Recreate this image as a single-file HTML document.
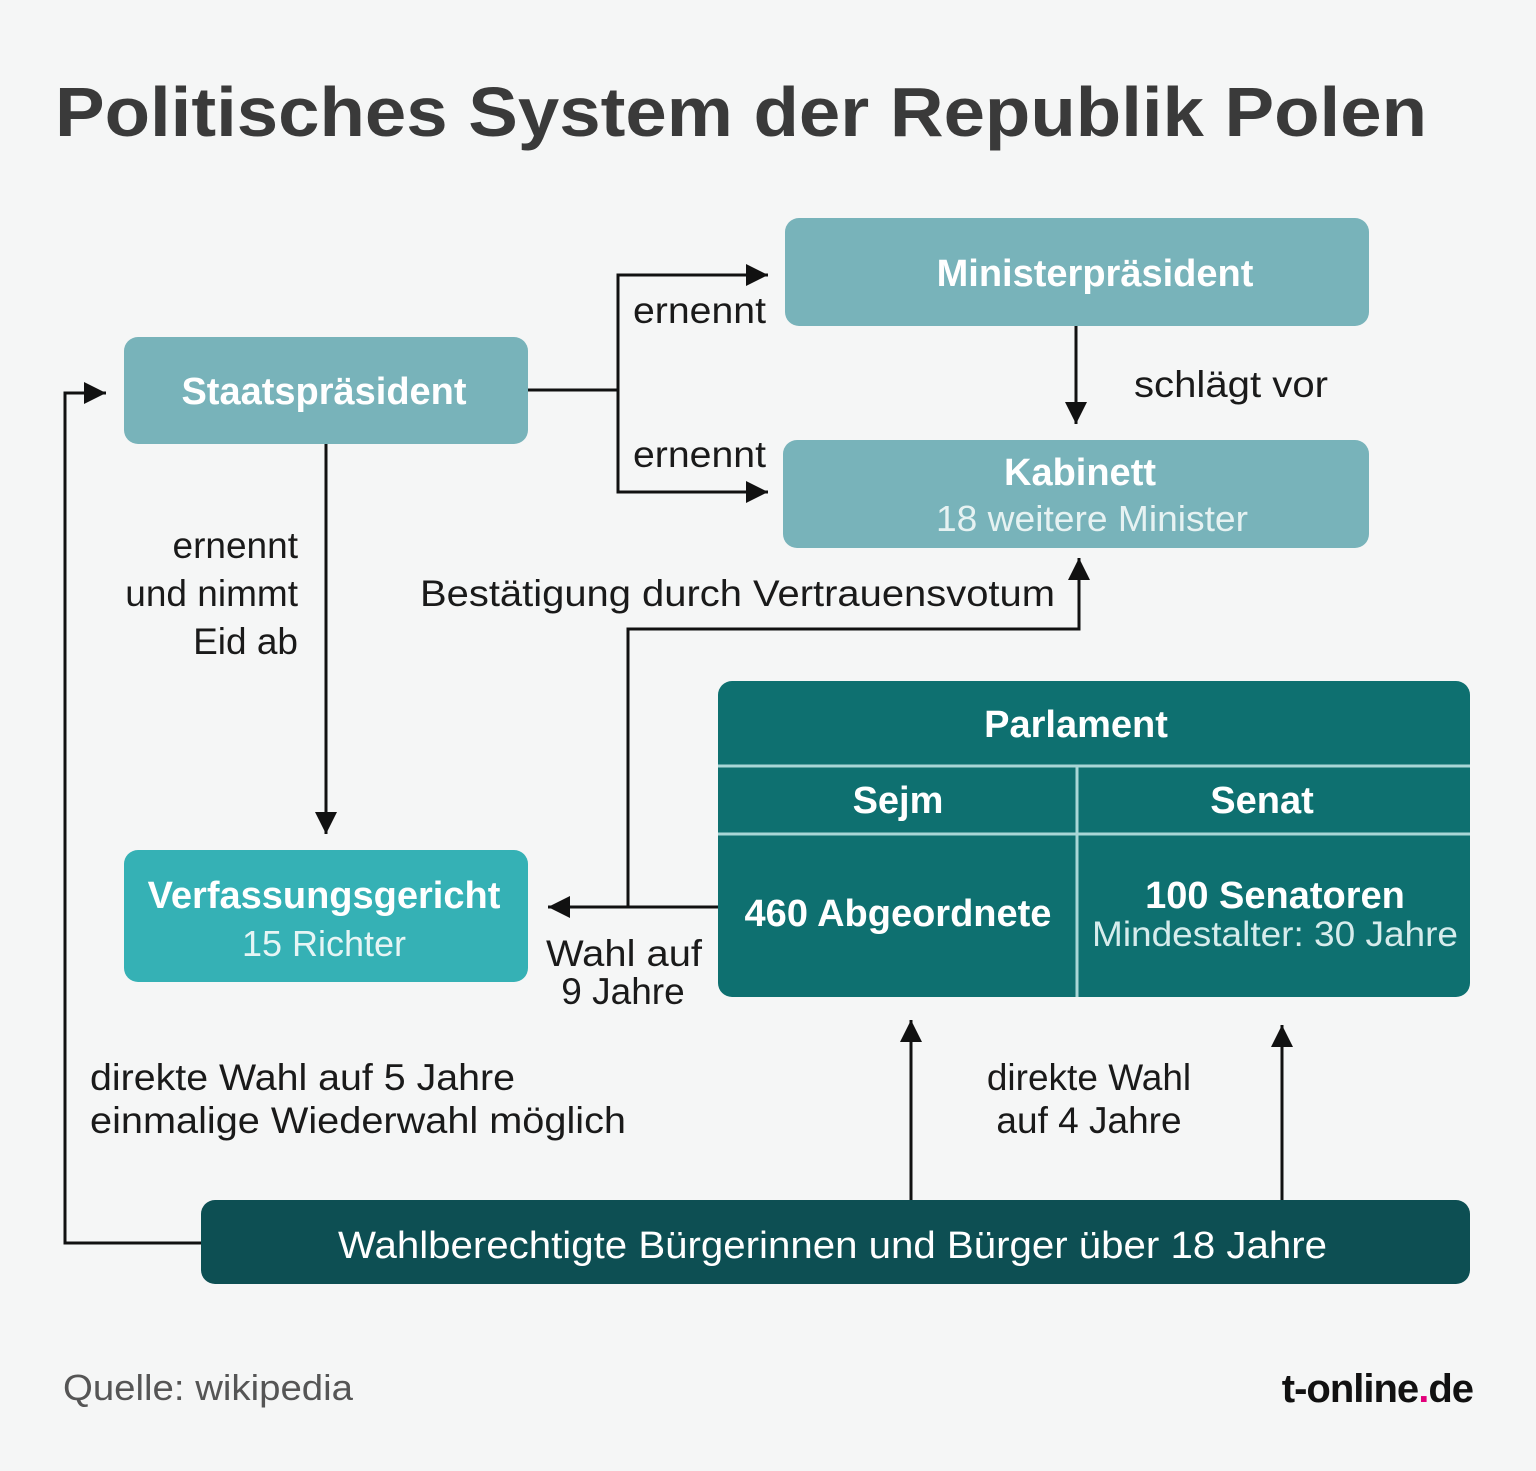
<!DOCTYPE html>
<html><head><meta charset="utf-8"><style>
html,body{margin:0;padding:0;background:#f5f6f6;}
svg{display:block;}
text{font-family:"Liberation Sans Narrow","Liberation Sans",sans-serif;}
</style></head><body>
<svg width="1536" height="1471" viewBox="0 0 1536 1471" xmlns="http://www.w3.org/2000/svg">
<defs>
<marker id="a" viewBox="0 0 10 10" refX="10" refY="5" markerWidth="22" markerHeight="22" markerUnits="userSpaceOnUse" orient="auto"><path d="M0,0L10,5L0,10z" fill="#111"/></marker>
</defs>
<rect x="0" y="0" width="1536" height="1471" fill="#f5f6f6"/>
<text x="55" y="136" font-family="Liberation Sans" font-weight="bold" font-size="70" fill="#3a3a3a" textLength="1372" lengthAdjust="spacingAndGlyphs">Politisches System der Republik Polen</text>

<g stroke="#111" stroke-width="3" fill="none">
<path d="M528,390H618"/>
<path d="M618,492V275H768" marker-end="url(#a)"/>
<path d="M618,390V492H768" marker-end="url(#a)"/>
<path d="M1076,326V424" marker-end="url(#a)"/>
<path d="M326,444V834" marker-end="url(#a)"/>
<path d="M718,907H548" marker-end="url(#a)"/>
<path d="M628,907V629H1079V558" marker-end="url(#a)"/>
<path d="M201,1243H65V393H106" marker-end="url(#a)"/>
<path d="M911,1200V1020" marker-end="url(#a)"/>
<path d="M1282,1200V1025" marker-end="url(#a)"/>
</g>

<rect x="785" y="218" width="584" height="108" rx="14" fill="#78b3ba"/>
<text x="1095" y="286" text-anchor="middle" font-size="38" font-weight="bold" fill="#fff">Ministerpräsident</text>
<rect x="783" y="440" width="586" height="108" rx="14" fill="#78b3ba"/>
<text x="1080" y="485" text-anchor="middle" font-size="38" font-weight="bold" fill="#fff">Kabinett</text>
<text x="1092" y="531" text-anchor="middle" font-size="36" fill="#e6f2f2" textLength="312" lengthAdjust="spacingAndGlyphs">18 weitere Minister</text>
<rect x="124" y="337" width="404" height="107" rx="14" fill="#78b3ba"/>
<text x="324" y="404" text-anchor="middle" font-size="38" font-weight="bold" fill="#fff">Staatspräsident</text>
<rect x="124" y="850" width="404" height="132" rx="14" fill="#35b1b5"/>
<text x="324" y="908" text-anchor="middle" font-size="38" font-weight="bold" fill="#fff">Verfassungsgericht</text>
<text x="324" y="956" text-anchor="middle" font-size="36" fill="#e6f5f5">15 Richter</text>

<rect x="718" y="681" width="752" height="316" rx="14" fill="#0e7070"/>
<path d="M718,766H1470M718,834H1470M1077,766V997" stroke="#a9d6d6" stroke-width="3"/>
<text x="1076" y="737" text-anchor="middle" font-size="38" font-weight="bold" fill="#fff">Parlament</text>
<text x="898" y="813" text-anchor="middle" font-size="38" font-weight="bold" fill="#fff">Sejm</text>
<text x="1262" y="813" text-anchor="middle" font-size="38" font-weight="bold" fill="#fff">Senat</text>
<text x="898" y="926" text-anchor="middle" font-size="38" font-weight="bold" fill="#fff">460 Abgeordnete</text>
<text x="1275" y="908" text-anchor="middle" font-size="38" font-weight="bold" fill="#fff">100 Senatoren</text>
<text x="1275" y="946" text-anchor="middle" font-size="35" fill="#d6ecec" textLength="366" lengthAdjust="spacingAndGlyphs">Mindestalter: 30 Jahre</text>

<rect x="201" y="1200" width="1269" height="84" rx="14" fill="#0d4f53"/>
<text x="338" y="1258" font-size="38" fill="#fff" textLength="989" lengthAdjust="spacingAndGlyphs">Wahlberechtigte Bürgerinnen und Bürger über 18 Jahre</text>

<g font-size="37" fill="#1a1a1a">
<text x="633" y="323" textLength="133" lengthAdjust="spacingAndGlyphs">ernennt</text>
<text x="633" y="467" textLength="133" lengthAdjust="spacingAndGlyphs">ernennt</text>
<text x="1134" y="397" textLength="194" lengthAdjust="spacingAndGlyphs">schlägt vor</text>
<text x="298" y="558" text-anchor="end">ernennt</text>
<text x="298" y="606" text-anchor="end">und nimmt</text>
<text x="298" y="654" text-anchor="end">Eid ab</text>
<text x="420" y="606" textLength="635" lengthAdjust="spacingAndGlyphs">Bestätigung durch Vertrauensvotum</text>
<text x="546" y="966" textLength="156" lengthAdjust="spacingAndGlyphs">Wahl auf</text>
<text x="623" y="1004" text-anchor="middle">9 Jahre</text>
<text x="1089" y="1090" text-anchor="middle">direkte Wahl</text>
<text x="1089" y="1133" text-anchor="middle">auf 4 Jahre</text>
<text x="90" y="1090" textLength="425" lengthAdjust="spacingAndGlyphs">direkte Wahl auf 5 Jahre</text>
<text x="90" y="1133" textLength="536" lengthAdjust="spacingAndGlyphs">einmalige Wiederwahl möglich</text>
</g>
<text x="63" y="1400" font-size="36" fill="#555" textLength="290" lengthAdjust="spacingAndGlyphs">Quelle: wikipedia</text>
<text x="1473" y="1402" text-anchor="end" font-family="Liberation Sans" font-size="40" font-weight="bold" fill="#111" letter-spacing="-1">t-online<tspan fill="#e2007a">.</tspan>de</text>
</svg>
</body></html>
